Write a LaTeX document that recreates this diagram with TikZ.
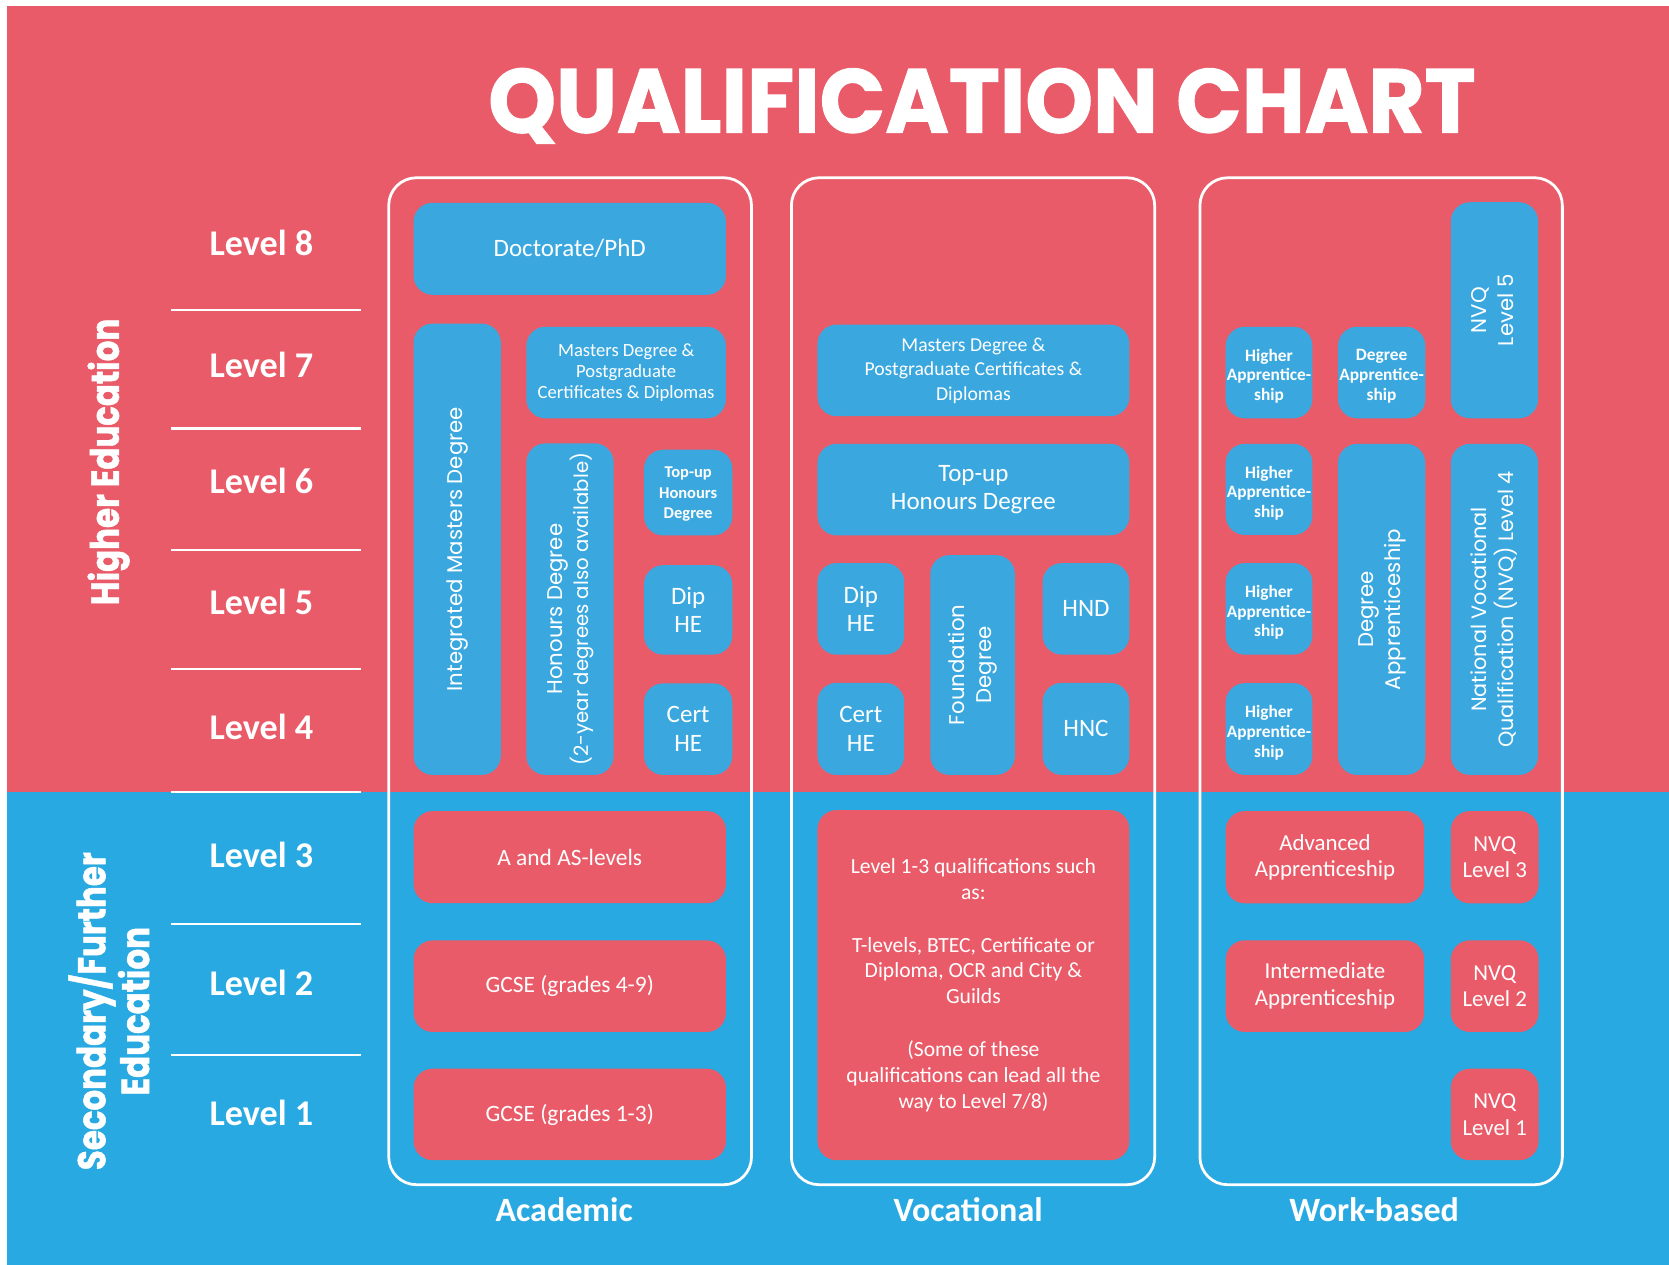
\documentclass[tikz,border=0pt]{standalone}
\usepackage{fontspec}
\usepackage{graphicx}
\setmainfont{Carlito}
\newfontfamily\popf{Poppins}
\newfontfamily\popheavy{Poppins}[BoldFeatures={FakeBold=1.3}]
\definecolor{bgred}{HTML}{E95B68}
\definecolor{bgblue}{HTML}{28A9E1}
\definecolor{boxblue}{HTML}{3AA8DF}
\definecolor{boxred}{HTML}{E95B68}
\newcommand{\vtxt}[2][20]{\rotatebox{90}{\popf\fontsize{#1}{25}\selectfont\begin{tabular}{@{}c@{}}#2\end{tabular}}}
% \qbx[style]{name}{x1}{y1}{x2}{y2}{text}
\newcommand{\qbx}[7][]{%
  \pgfmathsetmacro{\qcx}{(#3+#5)/2}%
  \pgfmathsetmacro{\qcy}{(#4+#6)/2}%
  \pgfmathsetmacro{\qw}{#5-#3}%
  \pgfmathsetmacro{\qh}{#6-#4}%
  \node[#1, minimum width=\qw pt, minimum height=\qh pt] (#2) at (\qcx,\qcy) {#7};}
\begin{document}
\begin{tikzpicture}[x=1pt,y=-1pt,
  qbox/.style={inner sep=0pt, outer sep=0pt, rounded corners=18pt, text=white, align=center},
  bq/.style={qbox, fill=boxblue},
  rq/.style={qbox, fill=boxred},
  colbox/.style={draw=white, line width=2.6pt, rounded corners=26pt, inner sep=0pt},
  lvl/.style={text=white, anchor=base, font=\fontsize{34}{40}\selectfont\bfseries},
  collab/.style={text=white, anchor=base, font=\fontsize{32}{38}\selectfont\bfseries},
  sepline/.style={draw=white, line width=2pt},
  side/.style={text=white, rotate=90, align=center, inner sep=0pt},
  intext/.style={text=white, align=center, inner sep=0pt},
  fbig/.style={font=\fontsize{23.5}{27}\selectfont},
  fmid/.style={font=\fontsize{22}{26}\selectfont},
  fwb/.style={font=\fontsize{21.5}{25}\selectfont},
  fvm/.style={font=\fontsize{18.5}{23}\selectfont},
  fam/.style={font=\fontsize{17.5}{19.5}\selectfont},
  fsb/.style={intext, font=\fontsize{15.5}{19}\selectfont\bfseries},
  fha/.style={intext, font=\fontsize{16.3}{18.5}\selectfont\bfseries},
  fl13/.style={font=\fontsize{20.3}{24.3}\selectfont}
]
\useasboundingbox (0,0) rectangle (1568,1188);
\fill[white] (0,0) rectangle (1568,1188);
\fill[bgred] (7,5.6) rectangle (1568,744.5);
\fill[bgblue] (7,744.5) rectangle (1568,1188);

% title
\node[anchor=base, text=white, inner sep=0pt, font=\popheavy\bfseries\fontsize{81}{90}\selectfont] (title) at (922.5,124.6) {\scalebox{1}[1.05]{QUALIFICATION CHART}};

% side labels
\node[side, font=\popheavy\bfseries\fontsize{30.5}{39}\selectfont] (he) at (102,434) {\scalebox{1}[1.2]{Higher Education}};
\node[side, font=\popheavy\bfseries\fontsize{30.5}{32.5}\selectfont] (sfe) at (108,950) {\scalebox{1}[1.2]{\begin{tabular}{@{}c@{}}Secondary/Further\\Education\end{tabular}}};

% level labels
\node[lvl] (l8) at (245.6,240.5) {Level 8};
\node[lvl] (l7) at (245.6,354.7) {Level 7};
\node[lvl] (l6) at (245.6,464) {Level 6};
\node[lvl] (l5) at (245.6,577) {Level 5};
\node[lvl] (l4) at (245.6,694.7) {Level 4};
\node[lvl] (l3) at (245.6,815) {Level 3};
\node[lvl] (l2) at (245.6,935.6) {Level 2};
\node[lvl] (l1) at (245.6,1057.3) {Level 1};
\foreach \yy in {291,402.6,516.5,628.5,744.4,867.7,991}
  \draw[sepline] (160.6,\yy) -- (338.9,\yy);

% columns
\qbx[colbox]{acad}{365.2}{167}{706}{1113}{}
\qbx[colbox]{voc}{743.5}{167}{1084.8}{1113}{}
\qbx[colbox]{work}{1127.3}{167}{1467.8}{1113}{}
\node[collab] (acadlab) at (530,1148) {Academic};
\node[collab] (voclab) at (909.5,1148) {Vocational};
\node[collab] (worklab) at (1291,1148) {Work-based};

% academic
\qbx[bq, fbig]{phd}{388.5}{190.5}{682}{277}{Doctorate/PhD}
\qbx[bq]{ima}{388.5}{304}{470.5}{728}{\vtxt{Integrated Masters Degree}}
\qbx[bq, fam]{amsc}{494.5}{307}{682}{393}{Masters Degree \&\\Postgraduate\\Certificates \& Diplomas}
\qbx[bq]{ahon}{494.5}{416.5}{576.5}{728}{\vtxt{Honours Degree\\{\fontsize{18.5}{25}\selectfont (2-year degrees also available)}}}
\qbx[bq]{atop}{605}{422.5}{688}{503}{}
\node[fsb] (atopt) at ([yshift=-1.5pt]atop.center) {Top-up\\Honours\\Degree};
\qbx[bq, fbig]{adip}{605}{531}{688}{615}{Dip\\HE}
\qbx[bq, fbig]{acert}{605}{642}{688}{728}{Cert\\HE}
\qbx[rq, fmid]{alev}{388.5}{762}{682}{848.5}{A and AS-levels}
\qbx[rq, fmid]{gcseb}{388.5}{883.5}{682}{969.5}{GCSE (grades 4-9)}
\qbx[rq, fmid]{gcsea}{388.5}{1004}{682}{1090}{GCSE (grades 1-3)}

% vocational
\qbx[bq, fvm]{vmsc}{768}{305}{1061}{391}{Masters Degree \&\\Postgraduate Certificates \&\\Diplomas}
\qbx[bq, fbig]{vtop}{768}{417}{1061}{503}{Top-up\\Honours Degree}
\qbx[bq, fbig]{vdip}{768}{529}{849.5}{615}{Dip\\HE}
\qbx[bq]{vfd}{874}{521.5}{953.5}{728}{\vtxt{Foundation\\Degree}}
\qbx[bq, fbig]{vhnd}{979.5}{529}{1061}{615}{HND}
\qbx[bq, fbig]{vcert}{768}{641.5}{849.5}{728}{Cert\\HE}
\qbx[bq, fbig]{vhnc}{979.5}{641.5}{1061}{728}{HNC}
\qbx[rq, fl13]{vlq}{768}{761}{1061}{1090}{Level 1-3 qualifications such\\as:\\[25pt]T-levels, BTEC, Certificate or\\Diploma, OCR and City \&\\Guilds\\[25pt](Some of these\\qualifications can lead all the\\way to Level 7/8)}

% work-based
\qbx[bq]{wha7}{1151.5}{307}{1233}{393}{}
\node[fha] (wha7t) at ([yshift=-3.5pt]wha7.center) {Higher\\Apprentice-\\ship};
\qbx[bq]{wda7}{1257}{307}{1339}{393}{}
\node[fha] (wda7t) at ([yshift=-3.5pt]wda7.center) {Degree\\Apprentice-\\ship};
\qbx[bq]{wnvq5}{1363}{190}{1445}{393}{\vtxt{NVQ\\Level 5}}
\qbx[bq]{wha6}{1151.5}{417}{1233}{502.6}{}
\node[fha] (wha6t) at ([yshift=-3.5pt]wha6.center) {Higher\\Apprentice-\\ship};
\qbx[bq]{wda}{1257}{417}{1339}{728}{\vtxt{Degree\\Apprenticeship}}
\qbx[bq]{wnvq4}{1363}{417}{1445}{728}{\vtxt[19.5]{National Vocational\\Qualification (NVQ) Level 4}}
\qbx[bq]{wha5}{1151.5}{529}{1233}{615}{}
\node[fha] (wha5t) at ([yshift=-3.5pt]wha5.center) {Higher\\Apprentice-\\ship};
\qbx[bq]{wha4}{1151.5}{641.8}{1233}{728}{}
\node[fha] (wha4t) at ([yshift=-3.5pt]wha4.center) {Higher\\Apprentice-\\ship};
\qbx[rq, fwb]{wadv}{1151.5}{762}{1338}{848.7}{Advanced\\Apprenticeship}
\qbx[rq, fwb]{wnvq3}{1363}{762}{1445.5}{848.7}{NVQ\\Level 3}
\qbx[rq, fwb]{wint}{1151.5}{883.4}{1338}{969.5}{Intermediate\\Apprenticeship}
\qbx[rq, fwb]{wnvq2}{1363}{883.4}{1445.5}{969.5}{NVQ\\Level 2}
\qbx[rq, fwb]{wnvq1}{1363}{1004}{1445.5}{1090}{NVQ\\Level 1}
\end{tikzpicture}
\end{document}
